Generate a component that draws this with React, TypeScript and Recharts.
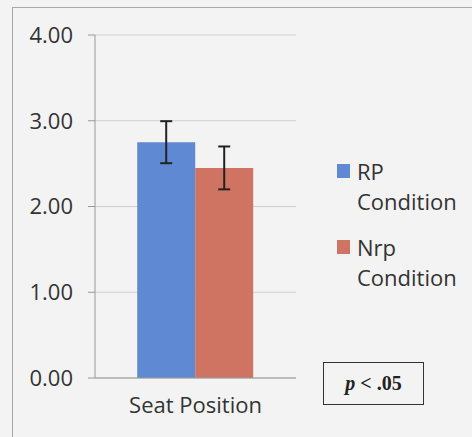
import React from "react";
import { BarChart, Bar, XAxis, YAxis, CartesianGrid, ErrorBar } from "recharts";

const categories = ["Seat Position"];
const rpValues = [2.75];
const rpErrors = [0.245];
const nrpValues = [2.45];
const nrpErrors = [0.25];
const yTicks = [0, 1, 2, 3, 4];
const seriesNames = ["RP Condition", "Nrp Condition"];
const note = "p < .05";

const data = categories.map((c, i) => ({
  name: c,
  rp: rpValues[i],
  rpErr: rpErrors[i],
  nrp: nrpValues[i],
  nrpErr: nrpErrors[i],
}));

const BLUE = "#5f89d2";
const RED = "#cf7463";
const FONT = "'Open Sans', sans-serif";
const TEXT = "#333333";

const LegendBox = () => {
  const items = [
    { name: seriesNames[0], color: BLUE },
    { name: seriesNames[1], color: RED },
  ];
  return (
    <div style={{ position: "absolute", left: 337, top: 156, fontFamily: FONT, fontSize: 22, color: TEXT, lineHeight: "30px" }}>
      {items.map((it, idx) => {
        const [first, ...rest] = it.name.split(" ");
        return (
          <div key={it.name} style={{ display: "flex", marginBottom: idx === 0 ? 16 : 0 }}>
            <div style={{ width: 13, height: 14, background: it.color, marginTop: 8, marginRight: 7, flex: "none" }} />
            <div>
              <div>{first}</div>
              <div>{rest.join(" ")}</div>
            </div>
          </div>
        );
      })}
    </div>
  );
};

export default function App() {
  return (
    <div style={{ position: "absolute", left: 0, top: 0, width: 472, height: 437, background: "#f3f3f3", overflow: "hidden" }}>
      <div style={{ position: "absolute", left: 12, top: 7, width: 470, height: 440, border: "1px solid #a8a8a8", boxSizing: "border-box" }} />
      <BarChart
        width={472}
        height={437}
        data={data}
        margin={{ top: 35, right: 176, bottom: 0, left: 0 }}
        barCategoryGap="21%"
        barGap={0}
        style={{ position: "absolute", left: 0, top: 0 }}
      >
        <CartesianGrid horizontal vertical={false} stroke="#cfcfcf" />
        <XAxis
          dataKey="name"
          height={59}
          axisLine={{ stroke: "#999" }}
          tickLine={false}
          tickSize={7}
          tickMargin={12}
          tick={{ fill: TEXT, fontSize: 22, fontFamily: FONT }}
          interval={0}
        />
        <YAxis
          width={95}
          domain={[0, 4]}
          ticks={yTicks}
          tickFormatter={(v) => v.toFixed(2)}
          axisLine={{ stroke: "#999" }}
          tickLine={{ stroke: "#999" }}
          tickSize={7}
          tickMargin={15}
          tick={{ fill: TEXT, fontSize: 22, fontFamily: FONT }}
        />
        <Bar dataKey="rp" name={seriesNames[0]} fill={BLUE} isAnimationActive={false}>
          <ErrorBar dataKey="rpErr" width={6} stroke="#222" strokeWidth={2} />
        </Bar>
        <Bar dataKey="nrp" name={seriesNames[1]} fill={RED} isAnimationActive={false}>
          <ErrorBar dataKey="nrpErr" width={6} stroke="#222" strokeWidth={2} />
        </Bar>
      </BarChart>
      <LegendBox />
      <div
        style={{
          position: "absolute",
          left: 323,
          top: 362,
          width: 101,
          height: 43,
          border: "1.5px solid #333",
          boxSizing: "border-box",
          display: "flex",
          alignItems: "center",
          justifyContent: "center",
          fontFamily: "'Liberation Serif', serif",
          fontWeight: "bold",
          fontSize: 20,
          color: "#222",
        }}
      >
        <span style={{ fontStyle: "italic" }}>{note.split(" ")[0]}</span>
        <span>&nbsp;{note.split(" ").slice(1).join(" ")}</span>
      </div>
    </div>
  );
}
